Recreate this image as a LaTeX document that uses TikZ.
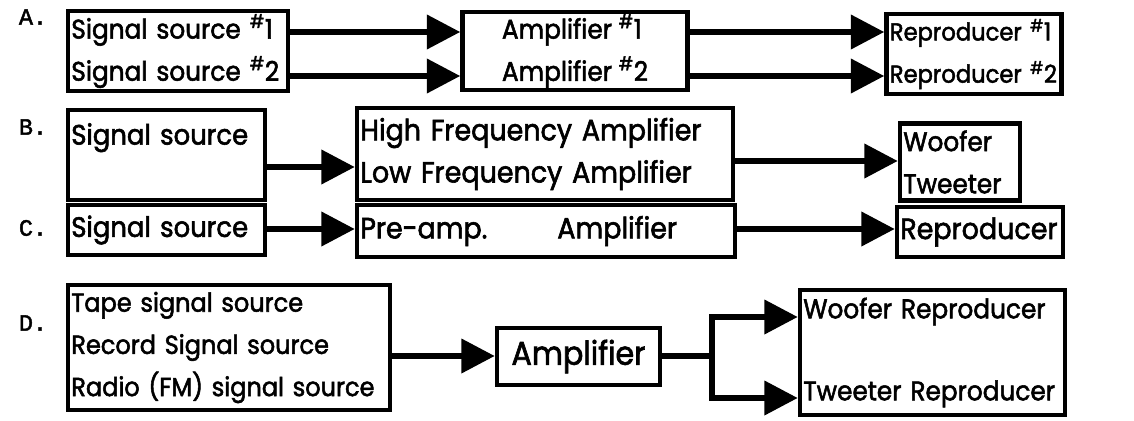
\documentclass[tikz,border=0pt]{standalone}
\usepackage{fontspec}
\setmainfont{Poppins}[FakeStretch=0.92,FakeBold=2]
\newfontfamily\labfont{Liberation Mono}[FakeBold=2]
\usetikzlibrary{arrows.meta}

\begin{document}
\begin{tikzpicture}[x=0.03cm,y=-0.03cm,
    box/.style={draw,line width=3.8pt,inner xsep=0.1cm,inner ysep=2pt,align=left,font=\fontsize{#1}{36}\selectfont},
    box/.default=23,
    arr/.style={line width=5pt,-{Triangle[length=1cm,width=1cm]}},
    lab/.style={font=\labfont\fontsize{20}{22}\selectfont}]
        \useasboundingbox(0,0)rectangle(1134,421);
        % A
        \node[lab](labA)at(33,17){A.};
        \node[box,text width=6.4cm,minimum height=2.4cm](ssA)at(178,51){Signal source \textsuperscript{\#}1\\Signal source \textsuperscript{\#}2};
        \node[box,minimum width=6.75cm,minimum height=2.34cm](ampA)at(575,51){Amplifier \textsuperscript{\#}1\\Amplifier \textsuperscript{\#}2};
        \node[box=21,text width=5.05cm,minimum height=2.4cm](repA)at(974,54){Reproducer \textsuperscript{\#}1\\Reproducer \textsuperscript{\#}2};
        \draw[arr](ssA.east|-0,32)to(ampA.west|-0,32);
        \draw[arr](ssA.east|-0,76)to(ampA.west|-0,76);
        \draw[arr](ampA.east|-0,32)to(repA.west|-0,32);
        \draw[arr](ampA.east|-0,76)to(repA.west|-0,76);
        % B
        \node[lab](labB)at(33,127){B.};
        \node[box=24,text width=5.71cm,minimum height=2.7cm](ssB)at(166.5,155){Signal source\\\mbox{}};
        \node[box=25,text width=11.08cm,minimum height=2.76cm](hfB)at(545,154){High Frequency Amplifier\\Low Frequency Amplifier};
        \node[box,text width=3.4cm,minimum height=2.31cm](wtB)at(960,162){Woofer\\Tweeter};
        \draw[arr](ssB.east|-0,167)to(hfB.west|-0,167);
        \draw[arr](hfB.east|-0,161)to(wtB.west|-0,161);
        % C
        \node[lab](labC)at(33,228){C.};
        \node[box=24,text width=5.71cm,minimum height=1.5cm](ssC)at(166.5,230){Signal source};
        \node[box=25,text width=11.14cm,minimum height=1.56cm](preC)at(546,231){Pre-amp.\hspace{2.1cm}Amplifier};
        \node[box=25,text width=4.78cm,minimum height=1.5cm](repC)at(980,232){Reproducer};
        \draw[arr](ssC.east|-0,229)to(preC.west|-0,229);
        \draw[arr](preC.east|-0,229)to(repC.west|-0,229);
        % D
        \node[lab](labD)at(33,323){D.};
        \node[box=22.3,text width=9.46cm,minimum height=3.75cm](tapeD)at(229,347.5){Tape signal source\\Record Signal source\\Radio (FM) signal source};
        \node[box=28,minimum width=4.89cm,minimum height=1.71cm](ampD)at(578.5,356.5){Amplifier};
        \node[box,text width=7.75cm,minimum height=3.75cm](wrD)at(932.5,352.5){Woofer Reproducer\\[34pt]Tweeter Reproducer};
        \coordinate(split)at(712,356);
        \draw[arr](tapeD.east|-0,356)to(ampD.west|-0,356);
        \draw[line width=5pt](ampD.east|-split)to(split);
        \draw[arr](split)|-(wrD.west|-0,317);
        \draw[arr](split)|-(wrD.west|-0,398);
\end{tikzpicture}
\end{document}
